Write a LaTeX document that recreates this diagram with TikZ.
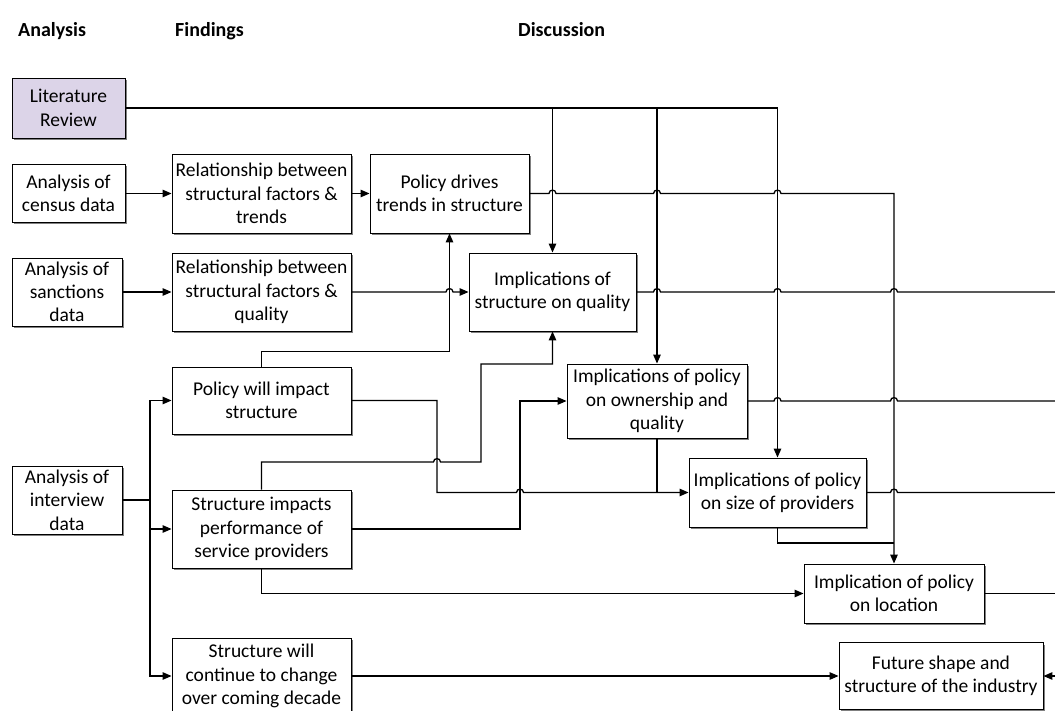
\documentclass[tikz,border=0pt]{standalone}
\usepackage{fontspec}
\setmainfont{Carlito}
\usetikzlibrary{arrows.meta,shadows}
\definecolor{litfill}{RGB}{220,212,232}
\tikzset{
  box/.style={draw=black, line width=0.9pt, fill=white, align=center, inner sep=1pt,
    font=\fontsize{19.5}{23.3}\selectfont,
    drop shadow={shadow xshift=2pt,shadow yshift=-2pt,fill=black!50,opacity=1}},
  conn/.style={line width=1.3pt, draw=black},
  arr/.style={conn, -{Triangle[length=9pt,width=7.5pt]}},
  ttl/.style={font=\fontsize{20}{23}\selectfont\bfseries, anchor=base west, inner sep=0pt},
  hop/.style 2 args={insert path={-- (#1-3.5,#2) .. controls (#1-3.5,#2-4.5) and (#1+3.5,#2-4.5) .. (#1+3.5,#2)}}
}
\begin{document}
\begin{tikzpicture}[x=1pt,y=-1pt]
\useasboundingbox (0,0) rectangle (1055,711);
% titles
\node[ttl] (hA) at (18,37) {Analysis};
\node[ttl] (hF) at (175,37) {Findings};
\node[ttl] (hD) at (518,37) {Discussion};
% analysis column
\node[box, fill=litfill, minimum width=113pt, minimum height=60pt] (lit) at (68.5,108) {Literature\\Review};
\node[box, minimum width=113pt, minimum height=58pt] (cen) at (68.5,193.5) {Analysis of\\census data};
\node[box, minimum width=110pt, minimum height=68pt] (san) at (67,292) {Analysis of\\sanctions\\data};
\node[box, minimum width=110pt, minimum height=68pt] (int) at (67,500) {Analysis of\\interview\\data};
% findings column
\node[box, minimum width=179pt, minimum height=79pt] (rt) at (261.5,193.5) {Relationship between\\structural factors \&\\trends};
\node[box, minimum width=179pt, minimum height=78pt] (rq) at (261.5,292) {Relationship between\\structural factors \&\\quality};
\node[box, minimum width=179pt, minimum height=67pt] (pwi) at (261.5,400.5) {Policy will impact\\structure};
\node[box, minimum width=179pt, minimum height=78pt] (sip) at (261.5,529) {Structure impacts\\performance of\\service providers};
\node[box, minimum width=179pt, minimum height=76pt] (swc) at (261.5,676) {Structure will\\continue to change\\over coming decade};
% discussion
\node[box, minimum width=159pt, minimum height=79pt] (pd) at (449.5,193.5) {Policy drives\\trends in structure};
\node[box, minimum width=167pt, minimum height=78pt] (isq) at (552.5,292) {Implications of\\structure on quality};
\node[box, minimum width=180pt, minimum height=74pt] (iown) at (657,401) {Implications of policy\\on ownership and\\quality};
\node[box, minimum width=177pt, minimum height=69pt] (isize) at (777.5,492.5) {Implications of policy\\on size of providers};
\node[box, minimum width=180pt, minimum height=59pt] (iloc) at (894,593.5) {Implication of policy\\on location};
\node[box, minimum width=204pt, minimum height=67pt] (fut) at (941,676) {Future shape and\\structure of the industry};
% free ends
\coordinate (e1) at (1055,292);
\coordinate (e2) at (1055,401);
\coordinate (e3) at (1055,492.5);
\coordinate (e4) at (1055,593.5);
\coordinate (e5) at (1055,676);
\coordinate (j) at (894,543);
% connectors
\draw[arr] (lit.east) -| (isize.north);
\draw[arr] (lit.east -| isq.north) -- (isq.north);
\draw[arr] (lit.east -| iown.north) -- (iown.north);
\draw[arr] (cen.east) -- (rt.west);
\draw[arr] (rt.east) -- (pd.west);
\draw[arr] (pd.east) [hop={552.5}{193.5}] [hop={657}{193.5}] [hop={777.5}{193.5}] -| (iloc.north);
\draw[arr] (san.east) -- (rq.west);
\draw[arr] (rq.east) [hop={449.5}{292}] -- (isq.west);
\draw[arr] (pwi.north) -- ++(0,-15) -| (pd.south);
\draw[arr] (pwi.east) -- (437,400.5) -- (437,492.5) [hop={520}{492.5}] -- (isize.west);
\draw[conn] (int.east) -- (150,500) coordinate (tr);
\draw[arr] (tr) |- (pwi.west);
\draw[arr] (tr) |- (sip.west);
\draw[arr] (tr) |- (swc.west);
\draw[arr] (sip.north) -- (261.5,462) [hop={437}{462}] -- (481,462) -- (481,364) -| (isq.south);
\draw[arr] (sip.east) -| (520,401) -- (iown.west);
\draw[arr] (sip.south) |- (iloc.west);
\draw[arr] (swc.east) -- (fut.west);
\draw[conn] (iown.south) -- (iown.south |- isize.west);
\draw[conn] (isq.east) [hop={657}{292}] [hop={777.5}{292}] [hop={894}{292}] -- (e1);
\draw[conn] (iown.east) [hop={777.5}{401}] [hop={894}{401}] -- (e2);
\draw[conn] (isize.east) [hop={894}{492.5}] -- (e3);
\draw[conn] (isize.south) |- (j);
\draw[conn] (iloc.east) -- (e4);
\draw[arr] (e5) -- (fut.east);
\end{tikzpicture}
\end{document}
